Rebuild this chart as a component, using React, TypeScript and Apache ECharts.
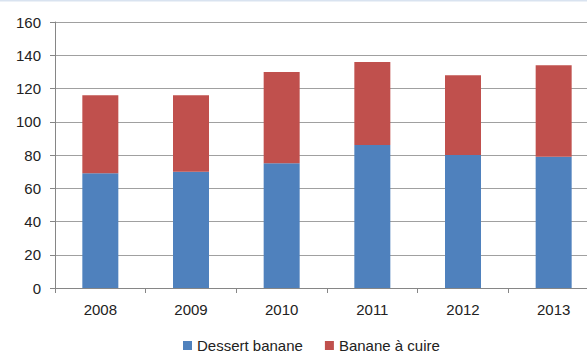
import React, { useEffect, useRef } from "react";
import * as echarts from "echarts";

const years = ["2008", "2009", "2010", "2011", "2012", "2013"];
const dessert = [69, 70, 75, 86, 80, 79];
const cuire = [47, 46, 55, 50, 48, 55];
const seriesNames = ["Dessert banane", "Banane à cuire"];

export default function App() {
  const ref = useRef<HTMLDivElement>(null);
  useEffect(() => {
    document.body.style.margin = "0";
    const chart = echarts.init(ref.current!, null, { renderer: "svg" });
    const font = "'Liberation Sans', Arial, sans-serif";
    chart.setOption({
      animation: false,
      backgroundColor: "#ffffff",
      textStyle: { fontFamily: font },
      graphic: [
        {
          type: "line",
          shape: { x1: 0, y1: 0.5, x2: 600, y2: 0.5 },
          style: { stroke: "#D9E3F0", lineWidth: 2 },
        },
      ],
      grid: { left: 55, top: 22, height: 266, width: 544, containLabel: false },
      legend: {
        left: 178,
        top: 333,
        itemWidth: 9,
        itemHeight: 9,
        itemGap: 22,
        icon: "rect",
        textStyle: { fontSize: 15, color: "#222", fontFamily: font },
        data: seriesNames,
      },
      xAxis: {
        type: "category",
        data: years,
        axisLine: { lineStyle: { color: "#868686" } },
        axisTick: { show: true, length: 5, lineStyle: { color: "#868686" } },
        axisLabel: { fontSize: 15, color: "#222", margin: 14, fontFamily: font },
      },
      yAxis: {
        type: "value",
        min: 0,
        max: 160,
        interval: 20,
        axisLine: { show: true, lineStyle: { color: "#868686" } },
        axisTick: { show: true, length: 5, lineStyle: { color: "#868686" } },
        axisLabel: { fontSize: 15, color: "#222", margin: 14, fontFamily: font },
        splitLine: { lineStyle: { color: "#A0A0A0" } },
      },
      series: [
        {
          name: seriesNames[0],
          type: "bar",
          stack: "total",
          data: dessert,
          barWidth: 36,
          itemStyle: { color: "#4F81BD" },
        },
        {
          name: seriesNames[1],
          type: "bar",
          stack: "total",
          data: cuire,
          barWidth: 36,
          itemStyle: { color: "#C0504D" },
        },
      ],
    });
    return () => chart.dispose();
  }, []);
  return (
    <div
      style={{
        position: "absolute",
        left: 0,
        top: 0,
        width: 587,
        height: 354,
        overflow: "hidden",
      }}
    >
      <div ref={ref} style={{ width: 600, height: 354 }} />
    </div>
  );
}
